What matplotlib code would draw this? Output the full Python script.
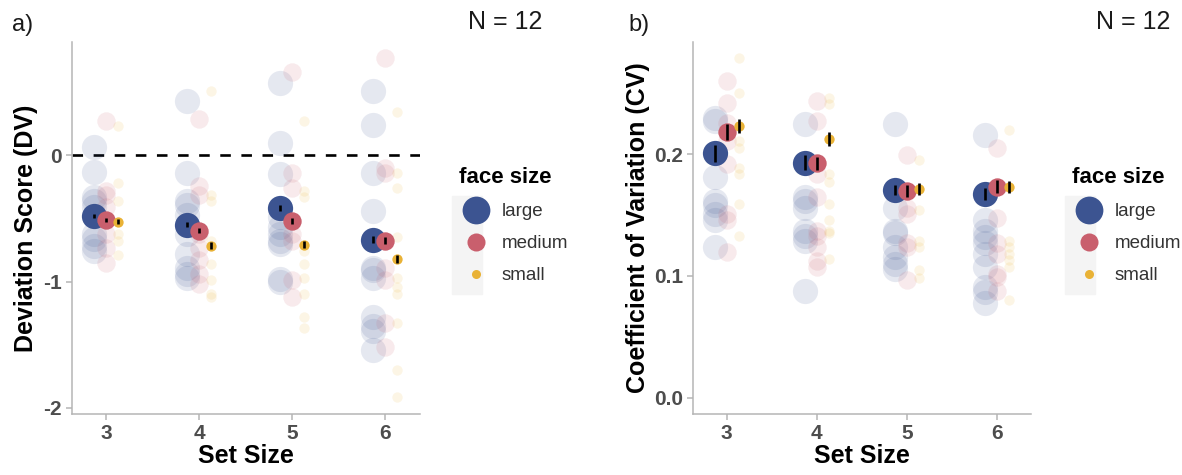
import numpy as np
import matplotlib.pyplot as plt
from matplotlib.lines import Line2D
from matplotlib.patches import Rectangle

plt.rcParams['font.family'] = ['Liberation Sans', 'DejaVu Sans']

set_sizes = [3, 4, 5, 6]
face_sizes = ['large', 'medium', 'small']
colors = {'large': '#3C5491', 'medium': '#C95F6D', 'small': '#E9B236'}
point_area = {'large': 330, 'medium': 175, 'small': 55}
key_size = {'large': 20, 'medium': 13, 'small': 6.5}

# --- panel a: deviation score, individual participants (per set size)
dv_large = [[0.07, -0.13, -0.33, -0.36, -0.41, -0.62, -0.66, -0.72, -0.755],
            [0.43, -0.14, -0.36, -0.39, -0.47, -0.62, -0.78, -0.89, -0.94, -0.97],
            [0.57, 0.1, -0.15, -0.49, -0.57, -0.62, -0.68, -0.7, -0.98, -1.0],
            [0.51, 0.24, -0.14, -0.44, -0.89, -0.91, -0.97, -1.28, -1.35, -1.39, -1.54]]
dv_medium = [[0.27, -0.28, -0.31, -0.41, -0.62, -0.73, -0.85],
             [0.29, -0.24, -0.31, -0.62, -0.73, -0.83, -0.94, -1.02],
             [0.66, -0.14, -0.26, -0.62, -0.68, -0.99, -1.12],
             [0.77, -0.1, -0.14, -0.89, -0.99, -1.33, -1.52]]
dv_small = [[0.23, -0.22, -0.36, -0.62, -0.68, -0.79],
            [0.51, -0.31, -0.36, -0.68, -0.86, -0.99, -1.1, -1.12],
            [0.27, -0.28, -0.33, -0.76, -0.86, -0.97, -1.1, -1.28, -1.37],
            [0.34, -0.14, -0.26, -0.65, -0.97, -1.04, -1.1, -1.33, -1.7, -1.91]]
dv_mean = {'large': [-0.478, -0.551, -0.42, -0.667],
           'medium': [-0.512, -0.596, -0.522, -0.675],
           'small': [-0.525, -0.714, -0.706, -0.822]}
dv_se = {'large': [0.016, 0.02, 0.024, 0.025],
         'medium': [0.018, 0.022, 0.025, 0.025],
         'small': [0.018, 0.025, 0.025, 0.03]}

# --- panel b: coefficient of variation
cv_large = [[0.230, 0.227, 0.181, 0.162, 0.158, 0.151, 0.146, 0.124],
            [0.225, 0.165, 0.162, 0.156, 0.137, 0.133, 0.129, 0.088],
            [0.225, 0.156, 0.137, 0.135, 0.124, 0.116, 0.110, 0.106],
            [0.216, 0.146, 0.137, 0.132, 0.127, 0.118, 0.107, 0.091, 0.087, 0.078]]
cv_medium = [[0.260, 0.242, 0.226, 0.211, 0.192, 0.151, 0.146, 0.120],
             [0.244, 0.227, 0.184, 0.165, 0.137, 0.133, 0.124, 0.112, 0.107],
             [0.199, 0.156, 0.151, 0.127, 0.124, 0.097],
             [0.205, 0.148, 0.127, 0.118, 0.102, 0.099, 0.088]]
cv_small = [[0.279, 0.250, 0.211, 0.205, 0.189, 0.184, 0.159, 0.133],
            [0.246, 0.241, 0.184, 0.177, 0.159, 0.146, 0.137, 0.135, 0.114],
            [0.195, 0.154, 0.129, 0.124, 0.105, 0.098],
            [0.220, 0.129, 0.124, 0.118, 0.113, 0.107, 0.080]]
cv_mean = {'large': [0.2008, 0.1932, 0.1707, 0.1674],
           'medium': [0.2186, 0.1926, 0.1701, 0.1734],
           'small': [0.2233, 0.2126, 0.1712, 0.1729]}
cv_se = {'large': [0.0068, 0.006, 0.0042, 0.0048],
         'medium': [0.0066, 0.0055, 0.0048, 0.0055],
         'small': [0.006, 0.006, 0.0048, 0.0048]}

dodge = {'large': -0.133, 'medium': 0.0, 'small': 0.133}


def draw_panel(ax, indiv, means, ses):
    for face in face_sizes:
        for i, s in enumerate(set_sizes):
            vals = indiv[face][i]
            ax.scatter([s + dodge[face]] * len(vals), vals, s=point_area[face],
                       color=colors[face], alpha=0.13, linewidths=0, zorder=2)
    for i, s in enumerate(set_sizes):
        for face in face_sizes:
            x = s + dodge[face]
            ax.scatter([x], [means[face][i]], s=point_area[face], color=colors[face],
                       linewidths=0, zorder=3 + 0.1 * i)
            ax.errorbar([x], [means[face][i]], yerr=[ses[face][i]], fmt='none',
                        ecolor='black', elinewidth=1.9, capsize=0, zorder=4)
    ax.set_xlim(2.63, 6.375)
    ax.set_xticks(set_sizes)
    for sp in ['top', 'right']:
        ax.spines[sp].set_visible(False)
    for sp in ['left', 'bottom']:
        ax.spines[sp].set_color('#B5B5B5')
        ax.spines[sp].set_linewidth(1.1)
    ax.tick_params(colors='#B5B5B5', length=4, width=1.1, labelsize=15,
                   labelcolor='#4D4D4D', pad=3)
    for lab in ax.get_xticklabels() + ax.get_yticklabels():
        lab.set_fontweight('bold')
    ax.set_xlabel('Set Size', fontsize=18, fontweight='bold', labelpad=1)


def add_legend(fig, ax, x_px, y_px):
    handles = [Line2D([], [], marker='o', linestyle='none', markersize=key_size[f],
                      markerfacecolor=colors[f], markeredgewidth=0, label=f)
               for f in face_sizes]
    # faint grey key background
    fig.patches.append(Rectangle(((x_px + 2) / 1182, 1 - 294 / 475), 30 / 1182, 98 / 475,
                                 transform=fig.transFigure, color='#F4F4F4', zorder=-1))
    leg = ax.legend(handles=handles, title='face size', loc='upper left',
                    bbox_to_anchor=(x_px / 1182, 1 - y_px / 475),
                    bbox_transform=fig.transFigure, frameon=False, fontsize=13.5,
                    title_fontproperties={'weight': 'bold', 'size': 16},
                    borderpad=0, handlelength=1.81, handletextpad=0.45,
                    labelspacing=0.79, alignment='left')
    for t in leg.get_texts():
        t.set_color('#333333')


fig = plt.figure(figsize=(11.82, 4.75), dpi=100)
ax1 = fig.add_axes([71.7 / 1182, 61 / 475, 348.3 / 1182, 372.3 / 475])
ax2 = fig.add_axes([693.3 / 1182, 61 / 475, 337.4 / 1182, 372.3 / 475])

draw_panel(ax1, {'large': dv_large, 'medium': dv_medium, 'small': dv_small}, dv_mean, dv_se)
ax1.axhline(0, color='black', lw=1.9, dashes=(4, 4), zorder=1)
ax1.set_ylim(-2.048, 0.9)
ax1.set_yticks([-2, -1, 0])
ax1.set_yticklabels(['-2', '-1', '0'])
ax1.set_ylabel('Deviation Score (DV)', fontsize=18, fontweight='bold')
ax1.yaxis.set_label_coords(-0.097, 0.5)

draw_panel(ax2, {'large': cv_large, 'medium': cv_medium, 'small': cv_small}, cv_mean, cv_se)
ax2.set_ylim(-0.0134, 0.2925)
ax2.set_yticks([0.0, 0.1, 0.2])
ax2.set_yticklabels(['0.0', '0.1', '0.2'])
ax2.set_ylabel('Coefficient of Variation (CV)', fontsize=18, fontweight='bold')
ax2.yaxis.set_label_coords(-0.128, 0.5)

add_legend(fig, ax1, 450, 158)
add_legend(fig, ax2, 1063, 158)

fig.text(12 / 1182, 1 - 25 / 475, 'a)', fontsize=17, va='center', ha='left', color='#1A1A1A')
fig.text(628 / 1182, 1 - 25 / 475, 'b)', fontsize=17, va='center', ha='left', color='#1A1A1A')
fig.text(542 / 1182, 1 - 22 / 475, 'N = 12', fontsize=18, va='center', ha='right', color='#1A1A1A')
fig.text(1170 / 1182, 1 - 22 / 475, 'N = 12', fontsize=18, va='center', ha='right', color='#1A1A1A')

plt.savefig('out.png', dpi=100)
